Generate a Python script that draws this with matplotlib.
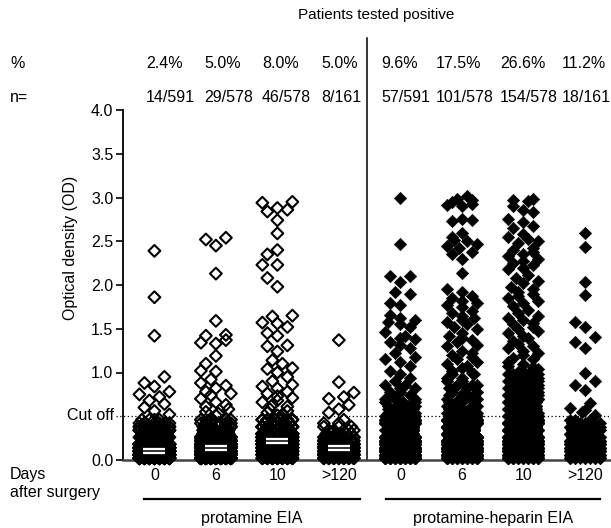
import numpy as np
import matplotlib.pyplot as plt
from matplotlib.transforms import blended_transform_factory

plt.rcParams['font.family'] = ['Liberation Sans', 'DejaVu Sans']

# group labels and header rows
days = ['0', '6', '10', '>120', '0', '6', '10', '>120']
pct_labels = ['2.4%', '5.0%', '8.0%', '5.0%', '9.6%', '17.5%', '26.6%', '11.2%']
n_labels = ['14/591', '29/578', '46/578', '8/161', '57/591', '101/578', '154/578', '18/161']
filled = [False, False, False, False, True, True, True, True]
cutoff = 0.5

# dense part of every column: OD level and how many patients sit there
low_levels = [0.02, 0.06, 0.10, 0.14, 0.18, 0.22, 0.26, 0.30, 0.34, 0.38, 0.42, 0.46,
              0.50, 0.54, 0.58, 0.62, 0.66, 0.70, 0.74, 0.78, 0.82, 0.86, 0.90, 0.94, 0.98]

prot0_counts = [70, 110, 120, 90, 60, 40, 30, 22, 15, 10, 6, 4]
prot6_counts = [45, 80, 95, 95, 80, 55, 35, 25, 16, 11, 7, 5]
prot10_counts = [20, 35, 45, 55, 65, 70, 70, 60, 45, 32, 20, 15]
prot120_counts = [14, 24, 28, 28, 20, 14, 9, 6, 4, 3, 2, 1]
hep0_counts = [40, 55, 60, 60, 55, 50, 45, 40, 35, 35, 30, 29,
               6, 5, 5, 4, 4, 3, 2, 2, 2, 2, 1, 1, 1]
hep6_counts = [30, 45, 50, 50, 48, 45, 42, 38, 35, 32, 30, 32,
               5, 5, 5, 5, 4, 4, 4, 3, 3, 3, 2, 2, 2]
hep10_counts = [25, 35, 40, 40, 38, 36, 35, 35, 35, 35, 35, 35,
                9, 9, 8, 8, 8, 7, 7, 6, 6, 5, 5, 4, 4]
hep120_counts = [12, 16, 18, 18, 17, 15, 13, 11, 9, 7, 4, 3]

# individually visible points
prot0_hi = [2.39, 1.86, 1.42, 0.95, 0.88, 0.84, 0.78, 0.75, 0.72, 0.68, 0.64, 0.60, 0.56, 0.52]
prot6_hi = [2.54, 2.52, 2.45, 2.13, 1.59, 1.43, 1.42, 1.37, 1.34, 1.33, 1.19, 1.10, 1.02, 1.01,
            0.92, 0.88, 0.85, 0.82, 0.78, 0.76, 0.74, 0.70, 0.66, 0.63, 0.61, 0.58, 0.55, 0.53, 0.51]
prot10_hi = [2.95, 2.94, 2.88, 2.86, 2.84, 2.74, 2.59, 2.40, 2.35, 2.23, 2.23, 2.08, 1.98,
             1.65, 1.64, 1.57, 1.56, 1.52, 1.45, 1.42, 1.31, 1.30, 1.24, 1.14, 1.10, 1.05, 1.04, 1.00,
             0.95, 0.90, 0.86, 0.84, 0.82, 0.78, 0.76, 0.73, 0.71, 0.68, 0.66, 0.63, 0.61, 0.58,
             0.56, 0.54, 0.52, 0.51]
prot120_hi = [1.37, 0.89, 0.77, 0.72, 0.70, 0.63, 0.58, 0.54]
hep0_hi = [2.99, 2.47, 2.10, 2.10, 2.04, 1.92, 1.90, 1.80, 1.77, 1.66, 1.62, 1.60, 1.58, 1.56,
           1.52, 1.46, 1.42, 1.40, 1.38, 1.35, 1.32, 1.28, 1.22, 1.18, 1.15, 1.12, 1.08, 1.02]
hep6_hi = [3.02, 2.98, 2.97, 2.95, 2.93, 2.92, 2.90, 2.76, 2.74, 2.73,
           2.60, 2.55, 2.52, 2.50, 2.47, 2.45, 2.42, 2.38, 2.35, 2.30, 2.14,
           1.96, 1.92, 1.88, 1.85, 1.82, 1.80, 1.77, 1.75,
           1.70, 1.68, 1.65, 1.62, 1.60, 1.58, 1.55, 1.52, 1.50,
           1.45, 1.42, 1.40, 1.37, 1.35, 1.32, 1.30,
           1.25, 1.22, 1.20, 1.18, 1.15, 1.12, 1.10, 1.08, 1.05, 1.02, 1.00]
hep10_hi = [2.98, 2.97, 2.96, 2.90, 2.86, 2.83, 2.76, 2.72, 2.68, 2.65,
            2.58, 2.55, 2.53, 2.50, 2.48,
            2.42, 2.40, 2.38, 2.35, 2.33, 2.30, 2.28, 2.25, 2.23, 2.20, 2.18,
            2.12, 2.08, 2.05, 2.02,
            1.98, 1.95, 1.92, 1.90, 1.88, 1.85, 1.82, 1.80,
            1.76, 1.72, 1.68, 1.65, 1.62, 1.60,
            1.57, 1.55, 1.52, 1.50, 1.47, 1.45, 1.42, 1.40,
            1.36, 1.33, 1.30, 1.28, 1.25, 1.22, 1.20,
            1.17, 1.15, 1.12, 1.10, 1.08, 1.06, 1.04, 1.02, 1.01]
hep120_hi = [2.60, 2.44, 2.04, 1.89, 1.58, 1.52, 1.41, 1.35, 1.28, 0.99, 0.90, 0.86, 0.80,
             0.65, 0.60, 0.57, 0.55, 0.52]

counts_all = [prot0_counts, prot6_counts, prot10_counts, prot120_counts,
              hep0_counts, hep6_counts, hep10_counts, hep120_counts]
hi_all = [prot0_hi, prot6_hi, prot10_hi, prot120_hi, hep0_hi, hep6_hi, hep10_hi, hep120_hi]


def group_values(counts, hi):
    low = np.repeat(low_levels[:len(counts)], counts)
    return np.concatenate([low, hi])


W, H = 611, 528
fig = plt.figure(figsize=(W / 100, H / 100), dpi=100)
ax = fig.add_axes([123 / W, 68 / H, 488 / W, 350 / H])
ax.set_xlim(-0.511, 7.427)
ax.set_ylim(0, 4.0)

# pixels per data unit, used to spread points like a column scatter
xpx = 488 / (7.427 + 0.511)
ypx = 350 / 4.0


def swarm(vals):
    vals = np.sort(vals)
    cands = np.array([0, -10, 10, -5, 5, -15, 15, -2.5, 2.5, -7.5, 7.5, -12.5, 12.5])
    px, py = [], []
    for v in vals:
        y = v * ypx
        off = 0.0
        if px:
            ax_ = np.array(px)
            ay_ = np.array(py)
            near = np.abs(ay_ - y) < 13
            ax_ = ax_[near]
            ay_ = ay_[near]
            dist = [np.abs(ax_ - c) + np.abs(ay_ - y) for c in cands]
            hits = np.array([np.sum(d < 12) for d in dist])
            if np.any(hits == 0):
                off = cands[int(np.argmax(hits == 0))]
            else:
                # column is full: spread evenly over the free slots
                close = np.array([np.sum(d < 3) for d in dist])
                off = cands[int(np.argmin(close * 1000 + hits))]
        px.append(off)
        py.append(y)
    return np.array(px) / xpx, vals


for i in range(8):
    vals = group_values(counts_all[i], hi_all[i])
    dx, yv = swarm(vals)
    if filled[i]:
        ax.scatter(i + dx, yv, marker='D', s=40, facecolors='black', edgecolors='black',
                   linewidths=0.4, clip_on=False, zorder=3)
    else:
        ax.scatter(i + dx, yv, marker='D', s=36, facecolors='none', edgecolors='black',
                   linewidths=1.5, clip_on=False, zorder=3)
        med = np.median(vals)
        ax.plot([i - 0.18, i + 0.18], [med, med], color='white', lw=4.5, zorder=4,
                solid_capstyle='butt')
        ax.plot([i - 0.18, i + 0.18], [med, med], color='black', lw=1.1, zorder=5,
                solid_capstyle='butt')

# dotted cut-off line, starting just left of the axis
ax.plot([-0.63, 7.427], [cutoff, cutoff], color='black', ls=(0, (1, 2)), lw=0.9, zorder=2,
        clip_on=False)

# axes styling
for s in ['top', 'right']:
    ax.spines[s].set_visible(False)
ax.spines['left'].set_linewidth(1.3)
ax.spines['bottom'].set_linewidth(1.8)
ax.spines['bottom'].set_color('#444444')
ax.set_yticks([0, 1.0, 1.5, 2.0, 2.5, 3.0, 3.5, 4.0])
ax.set_yticklabels(['0.0', '1.0', '1.5', '2.0', '2.5', '3.0', '3.5', '4.0'])
ax.tick_params(axis='y', length=5, width=1.2, pad=2, labelsize=11.5)
ax.set_xticks(range(8))
ax.set_xticklabels(days)
ax.tick_params(axis='x', length=0, pad=6, labelsize=11.5)

tr = blended_transform_factory(ax.transData, ax.transAxes)
# separator between the two assays
ax.plot([3.46, 3.46], [0, 422 / 350], color='black', lw=1.1, transform=tr, clip_on=False)

fs = 11.5


def ftext(x, y, s, size=fs, **kw):
    fig.text(x / W, 1 - y / H, s, fontsize=size, **kw)


# header table, left aligned like the original
label_left = [146, 204, 262, 321, 381, 436, 500, 562]
for i in range(8):
    ftext(label_left[i], 63, pct_labels[i], ha='left', va='center')
    ftext(label_left[i], 98, n_labels[i], ha='left', va='center')

ftext(376, 15, 'Patients tested positive', size=11, ha='center', va='center')
ftext(10, 63, '%', ha='left', va='center')
ftext(10, 98, 'n=', ha='left', va='center')
ftext(114, 415, 'Cut off', ha='right', va='center')
ftext(10, 475, 'Days', ha='left', va='center')
ftext(10, 493, 'after surgery', ha='left', va='center')
ftext(71, 248, 'Optical density (OD)', ha='center', va='center', rotation=90)

# assay brackets under the axis
yb = -(499 - 460) / 350
ax.plot([-0.17, 3.35], [yb, yb], color='black', lw=1.6, transform=tr, clip_on=False)
ax.plot([3.77, 7.25], [yb, yb], color='black', lw=1.6, transform=tr, clip_on=False)
ax.text(1.59, -(518 - 460) / 350, 'protamine EIA', transform=tr, ha='center', va='center', fontsize=fs)
ax.text(5.51, -(518 - 460) / 350, 'protamine-heparin EIA', transform=tr, ha='center', va='center',
        fontsize=fs)

fig.savefig('out.png', dpi=100)
